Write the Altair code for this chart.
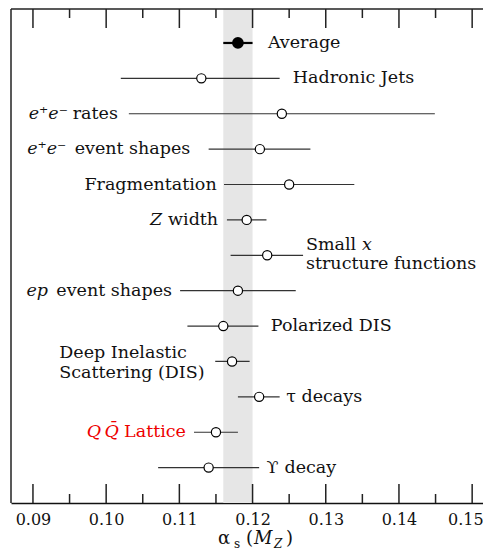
import altair as alt
import pandas as pd

# ---- data ----
rows = ["Average", "Hadronic Jets", "e+e- rates", "e+e- event shapes", "Fragmentation",
        "Z width", "Small x structure functions", "ep event shapes", "Polarized DIS",
        "DIS", "tau decays", "QQbar Lattice", "Upsilon decay"]
central = [0.1180, 0.1130, 0.1240, 0.1210, 0.1250, 0.1192, 0.1220, 0.1180, 0.1160,
           0.1172, 0.1209, 0.1150, 0.1140]
low = [0.1160, 0.1020, 0.1031, 0.1140, 0.1161, 0.1165, 0.1170, 0.1101, 0.1111,
       0.1149, 0.1180, 0.1120, 0.1071]
high = [0.1200, 0.1237, 0.1449, 0.1279, 0.1339, 0.1219, 0.1269, 0.1259, 0.1208,
        0.1196, 0.1237, 0.1180, 0.1209]
label_x = [0.1221, 0.1255, 0.1016, 0.1115, 0.1151, 0.1153, 0.1273, 0.1090, 0.1225,
           0.0936, 0.1246, 0.1109, 0.1219]
band = [0.1160, 0.1200]
major_ticks = [0.09, 0.10, 0.11, 0.12, 0.13, 0.14, 0.15]
minor_ticks = [0.095, 0.105, 0.115, 0.125, 0.135, 0.145]

W, H = 472, 494
SERIF = "DejaVu Serif"
FS = 17.5

df = pd.DataFrame({"row": list(range(len(rows))), "name": rows,
                   "c": central, "lo": low, "hi": high, "lx": label_x})

xs = alt.Scale(domain=[0.087, 0.087 + W / 732000.0 * 100], nice=False, zero=False)
ys = alt.Scale(domain=[-0.96, 13.0], nice=False, zero=False, reverse=True)
xaxis = alt.Axis(values=major_ticks, format=".2f", ticks=False, grid=False, domain=True,
                 domainColor="#111", domainWidth=1.5, labelFont=SERIF, labelFontSize=16,
                 labelColor="#111", labelPadding=8, labelOverlap=False,
                 labelFlush=15, labelFlushOffset=11, title=None)


def X(field):
    return alt.X(field, scale=xs, axis=xaxis, title=None)


def Y(field):
    return alt.Y(field, scale=ys, axis=None)


base = alt.Chart(df)

band_layer = alt.Chart(pd.DataFrame({"a": [band[0]], "b": [band[1]]})).mark_rect(
    color="#e6e6e6").encode(x=X("a:Q"), x2="b:Q", y=alt.value(0), y2=alt.value(H))

ticks = []
for tv, ln in [(major_ticks, 19), (minor_ticks, 9)]:
    tdf = pd.DataFrame({"v": tv})
    ticks.append(alt.Chart(tdf).mark_rule(color="#222", strokeWidth=1.5).encode(
        x=X("v:Q"), y=alt.value(H), y2=alt.value(H - ln)))
    ticks.append(alt.Chart(tdf).mark_rule(color="#222", strokeWidth=1.5).encode(
        x=X("v:Q"), y=alt.value(0), y2=alt.value(ln)))

top_border = alt.Chart(pd.DataFrame({"k": [0]})).mark_rule(color="#222", strokeWidth=1.5).encode(
    x=alt.value(0), x2=alt.value(W), y=alt.value(0))
left_border = alt.Chart(pd.DataFrame({"k": [0]})).mark_rule(color="#222", strokeWidth=1.5).encode(
    x=alt.value(0), y=alt.value(0), y2=alt.value(H))

bars = base.transform_filter("datum.row > 0").mark_rule(color="#333", strokeWidth=1.2).encode(
    x=X("lo:Q"), x2="hi:Q", y=Y("row:Q"))
avg_bar = base.transform_filter("datum.row == 0").mark_rule(color="#000", strokeWidth=2.2).encode(
    x=X("lo:Q"), x2="hi:Q", y=Y("row:Q"))
pts = base.transform_filter("datum.row > 0").mark_point(
    shape="circle", filled=True, fill="white", stroke="#000", strokeWidth=1.2, size=85,
    opacity=1).encode(x=X("c:Q"), y=Y("row:Q"))
avg_pt = base.transform_filter("datum.row == 0").mark_point(
    shape="circle", filled=True, fill="#000", stroke="#000", size=95, opacity=1).encode(
    x=X("c:Q"), y=Y("row:Q"))

# label segments: (row, text, dx, dy, italic, align, color)
segments = [
    (0, "Average", 0, 0, False, "left", "#111"),
    (1, "Hadronic Jets", 0, 0, False, "left", "#111"),
    (2, "rates", 0, 0, False, "right", "#111"),
    (2, "e\u207ae\u207b", -50, 0, True, "right", "#111"),
    (3, "event shapes", 0, 0, False, "right", "#111"),
    (3, "e\u207ae\u207b", -124, 0, True, "right", "#111"),
    (4, "Fragmentation", 0, 0, False, "right", "#111"),
    (5, "width", 0, 0, False, "right", "#111"),
    (5, "Z", -56, 0, True, "right", "#111"),
    (6, "Small", 0, -10, False, "left", "#111"),
    (6, "x", 56, -10, True, "left", "#111"),
    (6, "structure functions", 0, 9, False, "left", "#111"),
    (7, "event shapes", 0, 0, False, "right", "#111"),
    (7, "ep", -124, 0, True, "right", "#111"),
    (8, "Polarized DIS", 0, 0, False, "left", "#111"),
    (9, "Deep Inelastic", 0, -8, False, "left", "#111"),
    (9, "Scattering (DIS)", 0, 12, False, "left", "#111"),
    (10, "\u03c4 decays", 0, 0, False, "left", "#111"),
    (11, "Lattice", 0, 0, False, "right", "#ee0000"),
    (11, "Q\u2009Q\u0304", -67, 0, True, "right", "#ee0000"),
    (12, "\u03d2", 0, 0, False, "left", "#111"),
    (12, "decay", 18, 0, False, "left", "#111"),
]

text_layers = []
for r, t, dx, dy, it, al, col in segments:
    sdf = pd.DataFrame({"x": [label_x[r]], "row": [r], "t": [t]})
    text_layers.append(alt.Chart(sdf).mark_text(
        align=al, baseline="middle", dx=dx, dy=dy, font=SERIF, fontSize=FS,
        fontStyle="italic" if it else "normal", color=col).encode(
        x=X("x:Q"), y=Y("row:Q"), text="t:N"))

# axis title alpha_s(M_Z) composed from pieces
title_pieces = [
    ("\u03b1", 207, 535, 18, "normal"),
    ("s", 223, 539, 12, "normal"),
    ("(", 235, 535, 18, "normal"),
    ("M", 243, 535, 18, "italic"),
    ("Z", 263, 539, 12, "italic"),
    (")", 275, 535, 18, "normal"),
]
title_layers = []
for t, px, py, fs, st in title_pieces:
    title_layers.append(alt.Chart(pd.DataFrame({"t": [t]})).mark_text(
        align="left", baseline="alphabetic", font=SERIF, fontSize=fs, fontStyle=st,
        color="#111").encode(x=alt.value(px), y=alt.value(py), text="t:N"))

chart = alt.layer(band_layer, *ticks, top_border, left_border, bars, avg_bar, pts, avg_pt,
                  *text_layers, *title_layers).properties(
    width=W, height=H, padding={"left": 3, "top": 1, "right": 0, "bottom": 48},
    autosize=alt.AutoSizeParams(type="none")
).configure_view(stroke=None)

chart.save("out.html", embed_options={"renderer": "svg", "actions": False})
